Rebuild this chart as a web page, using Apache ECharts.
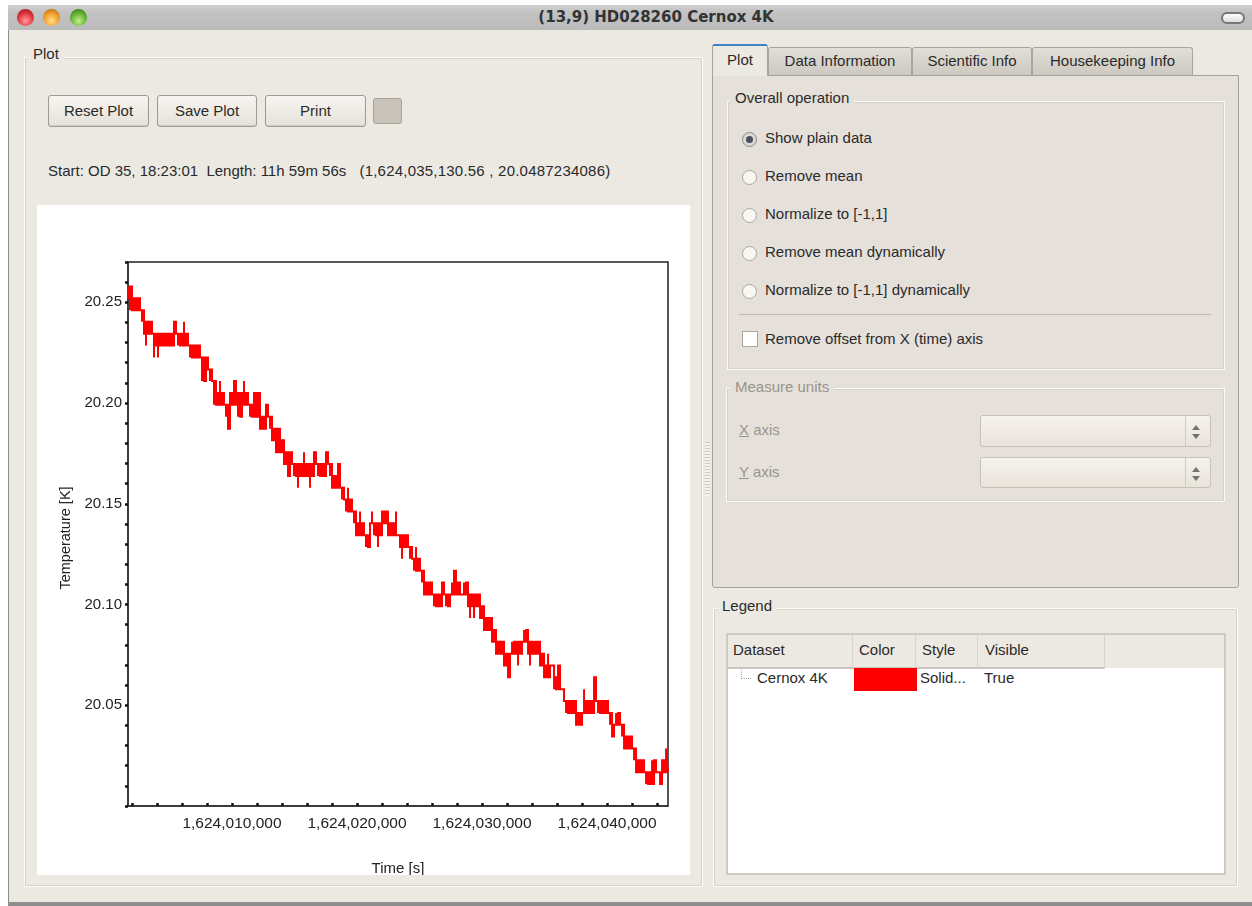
<!DOCTYPE html>
<html>
<head>
<meta charset="utf-8">
<title>(13,9) HD028260 Cernox 4K</title>
<script src="https://cdn.jsdelivr.net/npm/echarts@6/dist/echarts.min.js"></script>
<style>
html,body{margin:0;padding:0;width:1252px;height:906px;overflow:hidden;background:#fff;font-family:"Liberation Sans",Arial,sans-serif;font-size:15px;color:#2a2a2a}
div{position:absolute;box-sizing:border-box}
.t{white-space:nowrap;transform:translateY(-50%);line-height:18px}
.c{text-align:center}
.off{color:#98948e}
.group{border:1px solid #fbfaf7;outline:1px solid #d6d2ca;outline-offset:-2px}
.legendT{padding:0 5px}
.btn{border:1px solid #a09b90;border-radius:3px;background:linear-gradient(#f7f5f1,#e6e2da);box-shadow:inset 0 -1px 1px #cfcbc2;text-align:center;line-height:30px}
.tab{top:47px;height:28px;border:1px solid #a9a59c;border-bottom:none;border-radius:3px 3px 0 0;background:linear-gradient(#e2dfd8,#cdc9c1);text-align:center;line-height:26px}
.radio{width:15px;height:15px;border-radius:50%;border:1px solid #aaa69e;background:#f8f7f4;left:742px}
.combo{left:980px;width:231px;border:1px solid #c6c1b7;border-radius:3px;background:linear-gradient(#f6f3ec,#e8e4dc)}
.sep{top:0;bottom:0;left:204px;width:1px;background:#d0ccc3}
.arrowU,.arrowD{left:211px;width:0;height:0;border-left:4px solid transparent;border-right:4px solid transparent}
.arrowU{top:9px;border-bottom:5px solid #77736c}
.arrowD{top:18px;border-top:5px solid #77736c}
.light{top:9px;width:17px;height:17px;border-radius:50%}
.hsep{top:635px;height:33px;width:1px;background:#d8d4cc}
</style>
</head>
<body>
<!-- window -->
<div style="left:8px;top:5px;width:1244px;height:901px;background:#ece9e3;border-left:1px solid #8a8a8a"></div>
<div style="left:8px;top:5px;width:1244px;height:25px;background:linear-gradient(#cfcfcf,#c2c2c2 30%,#bbbbbb)"></div>
<div style="left:8px;top:902px;width:1244px;height:4px;background:#8e8e8e"></div>
<div class="light" style="left:17px;background:radial-gradient(circle at 50% 70%,#ff9a9a,#e0303c 55%,#8a1020)"></div>
<div class="light" style="left:43px;background:radial-gradient(circle at 50% 70%,#ffe08a,#f09a28 55%,#a85a10)"></div>
<div class="light" style="left:70px;background:radial-gradient(circle at 50% 70%,#c0f08a,#62b030 55%,#2c6a14)"></div>
<div class="t c" style="left:500px;width:312px;top:17px;font-family:'DejaVu Sans';font-size:15px;font-weight:bold;color:#333">(13,9) HD028260 Cernox 4K</div>
<div style="left:1221px;top:12px;width:24px;height:12px;border-radius:6px;border:2px solid #777;background:linear-gradient(#fff,#ddd)"></div>

<!-- left panel -->
<div class="group" style="left:24px;top:57px;width:679px;height:830px"></div>
<div class="t legendT" style="left:28px;top:54px;background:#ece9e3">Plot</div>
<div class="btn" style="left:48px;top:95px;width:101px;height:32px">Reset Plot</div>
<div class="btn" style="left:157px;top:95px;width:100px;height:32px">Save Plot</div>
<div class="btn" style="left:265px;top:95px;width:101px;height:32px">Print</div>
<div style="left:373px;top:98px;width:29px;height:26px;border:1px solid #a8a398;border-radius:3px;background:#c9c3ba"></div>
<div class="t" style="left:48px;top:171px">Start: OD 35, 18:23:01&nbsp; Length: 11h 59m 56s <span style="margin-left:9px;letter-spacing:0.22px">(1,624,035,130.56 , 20.0487234086)</span></div>
<div id="chart" style="left:37px;top:205px;width:653px;height:670px;background:#fff"></div>

<!-- splitter -->
<div style="left:705px;top:442px;width:5px;height:54px;background:repeating-linear-gradient(#cfcbc3 0 1px,#f4f2ee 1px 3px)"></div>

<!-- tabs -->
<div style="left:712px;top:75px;width:527px;height:513px;background:#e6e0da;border:1px solid #a5a198;border-radius:0 0 3px 3px"></div>
<div class="tab" style="left:768px;width:144px">Data Information</div>
<div class="tab" style="left:912px;width:120px">Scientific Info</div>
<div class="tab" style="left:1032px;width:161px">Housekeeping Info</div>
<div class="tab" style="left:712px;top:44px;width:56px;height:32px;background:#ece9e3;border-top:2px solid #3f80c8;border-color:#3f80c8 #a9a59c #ece9e3 #a9a59c;line-height:28px">Plot</div>

<div class="group" style="left:727px;top:101px;width:498px;height:269px"></div>
<div class="t legendT" style="left:730px;top:98px;background:#e6e0da">Overall operation</div>
<div class="radio" style="top:132px;border-color:#8f8b84;background:#dcd9d3"></div>
<div style="left:746px;top:136px;width:7px;height:7px;border-radius:50%;background:#4b5060"></div>
<div class="radio" style="top:170px"></div>
<div class="radio" style="top:208px"></div>
<div class="radio" style="top:246px"></div>
<div class="radio" style="top:284px"></div>
<div class="t" style="left:765px;top:138px">Show plain data</div>
<div class="t" style="left:765px;top:176px">Remove mean</div>
<div class="t" style="left:765px;top:214px">Normalize to [-1,1]</div>
<div class="t" style="left:765px;top:252px">Remove mean dynamically</div>
<div class="t" style="left:765px;top:290px">Normalize to [-1,1] dynamically</div>
<div style="left:739px;top:314px;width:472px;height:1px;background:#bdb9b1"></div>
<div style="left:742px;top:331px;width:16px;height:16px;background:#fff;border:1px solid #aaa69e"></div>
<div class="t" style="left:765px;top:339px">Remove offset from X (time) axis</div>

<div class="group" style="left:726px;top:388px;width:499px;height:114px"></div>
<div class="t legendT off" style="left:730px;top:387px;background:#e6e0da">Measure units</div>
<div class="t off" style="left:739px;top:430px"><u>X</u> axis</div>
<div class="t off" style="left:739px;top:472px"><u>Y</u> axis</div>
<div class="combo" style="top:415px;height:32px"><div class="sep"></div><div class="arrowU"></div><div class="arrowD"></div></div>
<div class="combo" style="top:457px;height:31px"><div class="sep"></div><div class="arrowU"></div><div class="arrowD"></div></div>

<!-- legend panel -->
<div class="group" style="left:713px;top:608px;width:525px;height:279px"></div>
<div class="t legendT" style="left:717px;top:606px;background:#ece9e3">Legend</div>
<div style="left:726px;top:633px;width:500px;height:242px;background:#fff;border:2px solid #cfcbc2"></div>
<div style="left:728px;top:635px;width:496px;height:33px;background:#ece9e3"></div>
<div style="left:728px;top:667px;width:377px;height:2px;background:#c9c5bc"></div>
<div class="hsep" style="left:852px"></div>
<div class="hsep" style="left:915px"></div>
<div class="hsep" style="left:977px"></div>
<div class="hsep" style="left:1104px"></div>
<div class="t" style="left:733px;top:650px">Dataset</div>
<div class="t" style="left:859px;top:650px">Color</div>
<div class="t" style="left:922px;top:650px">Style</div>
<div class="t" style="left:985px;top:650px">Visible</div>
<div style="left:741px;top:670px;width:10px;height:9px;border-left:1px dotted #aaa;border-bottom:1px dotted #aaa"></div>
<div class="t" style="left:757px;top:678px">Cernox 4K</div>
<div style="left:854px;top:668px;width:63px;height:23px;background:#ff0000"></div>
<div class="t" style="left:920px;top:678px">Solid...</div>
<div class="t" style="left:984px;top:678px">True</div>

<script>
// time axis
var timeStart = 1624001680;
var timeEnd = 1624044876;
var xTickValues = [1624002000,1624004000,1624006000,1624008000,1624010000,1624012000,1624014000,1624016000,1624018000,1624020000,1624022000,1624024000,1624026000,1624028000,1624030000,1624032000,1624034000,1624036000,1624038000,1624040000,1624042000,1624044000];
var xLabelValues = [1624010000,1624020000,1624030000,1624040000];
var yTickValues = [20.00,20.01,20.02,20.03,20.04,20.05,20.06,20.07,20.08,20.09,20.10,20.11,20.12,20.13,20.14,20.15,20.16,20.17,20.18,20.19,20.20,20.21,20.22,20.23,20.24,20.25,20.26,20.27];
var yLabelValues = [20.05,20.10,20.15,20.20,20.25];

// the readout is quantised, these are the steps seen in the plot [K]
var tempLevels = [20.2579,20.2520,20.2461,20.2403,20.2344,20.2285,20.2226,20.2167,20.2109,20.2050,
20.1991,20.1932,20.1873,20.1815,20.1756,20.1697,20.1638,20.1579,20.1521,20.1462,
20.1403,20.1344,20.1285,20.1227,20.1168,20.1109,20.1050,20.0991,20.0933,20.0874,
20.0815,20.0756,20.0697,20.0639,20.0580,20.0521,20.0462,20.0403,20.0345,20.0286,
20.0227,20.0168,20.0109,20.0051];

// seconds from timeStart
var sampleSec = [0,160,320,480,640,800,960,1120,1280,1440,
1600,1760,1920,2080,2240,2400,2560,2720,2880,3040,
3200,3360,3520,3680,3840,4000,4160,4320,4480,4640,
4800,4960,5120,5280,5440,5600,5760,5920,6080,6240,
6400,6560,6720,6880,7040,7200,7360,7520,7680,7840,
8000,8160,8320,8480,8640,8800,8960,9120,9280,9440,
9600,9760,9920,10080,10240,10400,10560,10720,10880,11040,
11200,11360,11520,11680,11840,12000,12160,12320,12480,12640,
12800,12960,13120,13280,13440,13600,13760,13920,14080,14240,
14400,14560,14720,14880,15040,15200,15360,15520,15680,15840,
16000,16160,16320,16480,16640,16800,16960,17120,17280,17440,
17600,17760,17920,18080,18240,18400,18560,18720,18880,19040,
19200,19360,19520,19680,19840,20000,20160,20320,20480,20640,
20800,20960,21120,21280,21440,21600,21760,21920,22080,22240,
22400,22560,22720,22880,23040,23200,23360,23520,23680,23840,
24000,24160,24320,24480,24640,24800,24960,25120,25280,25440,
25600,25760,25920,26080,26240,26400,26560,26720,26880,27040,
27200,27360,27520,27680,27840,28000,28160,28320,28480,28640,
28800,28960,29120,29280,29440,29600,29760,29920,30080,30240,
30400,30560,30720,30880,31040,31200,31360,31520,31680,31840,
32000,32160,32320,32480,32640,32800,32960,33120,33280,33440,
33600,33760,33920,34080,34240,34400,34560,34720,34880,35040,
35200,35360,35520,35680,35840,36000,36160,36320,36480,36640,
36800,36960,37120,37280,37440,37600,37760,37920,38080,38240,
38400,38560,38720,38880,39040,39200,39360,39520,39680,39840,
40000,40160,40320,40480,40640,40800,40960,41120,41280,41440,
41600,41760,41920,42080,42240,42400,42560,42720,42880,43040,
43196];

// upper and lower step the signal toggled between at each sample (index in tempLevels)
var sampleHigh = [0,0,1,1,1,1,1,2,3,3,
3,3,3,4,4,4,4,4,4,4,
4,4,4,3,4,4,4,4,3,4,
4,5,5,5,5,5,5,6,6,6,
6,7,7,8,8,9,8,9,9,10,
10,9,9,8,9,9,9,9,8,9,
9,10,10,9,9,9,11,11,11,10,
10,11,12,12,12,12,13,13,14,14,
14,14,15,15,15,15,15,15,14,15,
15,15,15,14,15,15,15,15,15,14,
15,15,16,16,16,15,16,17,18,18,
17,18,
18,19,20,20,19,20,20,21,
21,20,19,20,20,20,20,19,19,19,
20,20,20,20,19,21,21,21,21,21,
21,22,23,23,22,23,23,24,25,25,
25,25,25,26,26,26,26,25,25,26,
26,26,25,24,25,25,25,26,25,25,
26,26,26,26,26,26,27,27,28,28,
28,28,29,29,30,30,30,30,30,31,
32,31,30,30,30,30,30,30,29,29,
30,30,30,30,30,30,31,31,32,32,
31,32,32,33,33,32,33,34,34,35,
35,35,35,35,36,36,36,36,34,35,
35,35,35,33,34,35,35,35,35,35,
35,36,36,37,36,36,37,37,38,38,
38,38,39,39,40,40,40,40,40,41,
41,41,40,40,40,41,41,40,40,39,
39];
var sampleLow = [1,2,2,2,2,2,2,3,4,5,
4,4,4,6,5,6,5,5,5,5,
5,5,5,4,4,5,5,5,5,4,
5,6,6,6,6,6,6,8,8,8,
7,8,8,10,10,10,10,10,10,11,
12,11,10,10,10,11,11,10,10,10,
10,11,11,10,11,11,12,12,12,12,
11,12,13,13,14,14,14,14,15,15,
16,15,15,16,16,17,16,16,16,16,
16,17,16,15,15,16,16,16,16,15,
15,16,17,17,17,17,17,18,18,19,
19,19,
19,20,21,21,21,20,21,22,
22,21,20,21,21,22,21,20,20,20,
21,21,21,21,21,21,22,23,22,22,
22,23,23,24,24,24,24,25,26,26,
26,26,26,27,27,27,27,26,26,27,
27,26,26,26,26,26,26,26,26,26,
27,28,27,28,27,27,28,28,29,29,
29,29,30,30,31,31,31,31,32,32,
33,32,31,31,31,32,31,31,30,30,
31,32,31,31,31,31,32,32,33,33,
33,32,32,34,34,34,34,34,35,36,
36,36,36,36,37,37,37,37,36,36,
36,36,36,35,35,36,36,36,36,36,
36,37,38,38,37,37,37,38,39,39,
39,39,39,40,41,41,41,41,41,42,
42,42,42,41,41,41,42,41,41,41,
41];

// walk up and down so each sample shows its full range
var lineData = [];
for (var i = 0; i < sampleSec.length; i++) {
	var t = timeStart + sampleSec[i];
	var hi = tempLevels[sampleHigh[i]];
	var lo = tempLevels[sampleLow[i]];
	if (i % 2 == 0) {
		lineData.push([t, hi]);
		lineData.push([t, lo]);
	} else {
		lineData.push([t, lo]);
		lineData.push([t, hi]);
	}
}

var fontName = '"Liberation Sans", Arial, sans-serif';
var axisColor = '#333';

var option = {
	animation: false,
	backgroundColor: '#fff',
	grid: {
		left: 91, top: 57, width: 540, height: 544,
		outerBoundsMode: 'none',
		show: true, borderColor: '#222', borderWidth: 1.5, backgroundColor: '#fff'
	},
	xAxis: {
		type: 'value',
		min: timeStart,
		max: timeEnd,
		name: 'Time [s]',
		nameLocation: 'middle',
		nameGap: 55,
		nameTextStyle: { fontFamily: fontName, fontSize: 15, color: '#222' },
		splitLine: { show: false },
		axisLine: { show: true, onZero: false, lineStyle: { color: axisColor, width: 1.5 } },
		axisTick: { show: true, inside: true, length: 3, customValues: xTickValues, lineStyle: { color: '#111', width: 2.5 } },
		axisLabel: {
			show: true, customValues: xLabelValues, margin: 10,
			fontFamily: fontName, fontSize: 15.5, color: '#222',
			formatter: function (v) { return v.toLocaleString('en-US'); }
		}
	},
	yAxis: {
		type: 'value',
		min: 20.00,
		max: 20.27,
		name: 'Temperature [K]',
		nameLocation: 'middle',
		nameGap: 54,
		nameTextStyle: { fontFamily: fontName, fontSize: 14.5, color: '#222', padding: [0, 8, 0, 0] },
		splitLine: { show: false },
		axisLine: { show: true, onZero: false, lineStyle: { color: axisColor, width: 1.5 } },
		axisTick: { show: true, length: 3, customValues: yTickValues, lineStyle: { color: '#111', width: 2.5 } },
		axisLabel: {
			show: true, customValues: yLabelValues, margin: 6,
			fontFamily: fontName, fontSize: 15, color: '#222',
			formatter: function (v) { return v.toFixed(2); }
		}
	},
	series: [{
		name: 'Cernox 4K',
		type: 'line',
		data: lineData,
		showSymbol: false,
		symbol: 'none',
		clip: true,
		sampling: null,
		step: 'end',
		lineStyle: { color: '#ff0000', width: 2, join: 'miter' }
	}]
};
var chart = echarts.init(document.getElementById('chart'));
chart.setOption(option);
</script>
</body>
</html>
